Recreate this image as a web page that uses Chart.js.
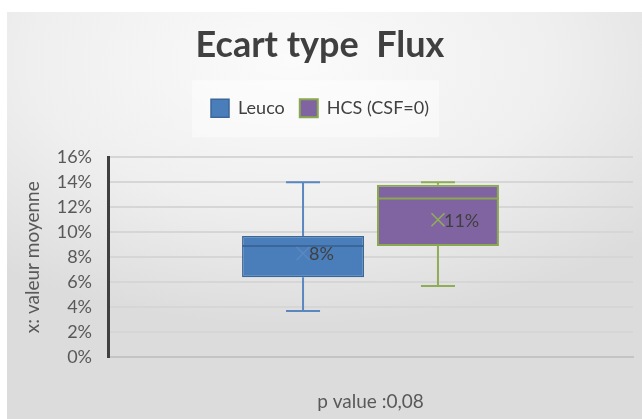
<!DOCTYPE html>
<html>
<head>
<meta charset="utf-8">
<script src="https://cdn.jsdelivr.net/npm/chart.js@4.4.1/dist/chart.umd.min.js"></script>
<style>
    html, body {
        margin: 0;
        padding: 0;
        background: #ffffff;
    }
    #wrap {
        position: absolute;
        left: 7px;
        top: 12px;
        width: 635px;
        height: 407px;
        background: radial-gradient(ellipse 75% 65% at 45% 12%, #fbfbfb 0%, #efefef 55%, #dcdcdc 100%);
    }
</style>
</head>
<body>
<div id="wrap"><canvas id="box-chart"></canvas></div>
<script>
const categories = [""];
const seriesNames = ["Leuco", "HCS (CSF=0)"];
const minValues = [3.7, 5.7];
const q1Values = [6.4, 8.9];
const medianValues = [8.9, 12.7];
const q3Values = [9.7, 13.8];
const maxValues = [14.0, 14.0];
const meanValues = [8.3, 11.0];
const meanLabels = ["8%", "11%"];
const yTicks = [0, 2, 4, 6, 8, 10, 12, 14, 16];

const fillColors = ["#4A7EBB", "#8064A2"];
const edgeColors = ["#3B6698", "#8AA84E"];
const whiskerColors = ["#5B87BF", "#8FAD57"];

// whiskers, median, mean cross and the mean label
const boxExtras = {
    id: "boxExtras",
    beforeDraw: (chart) => {
        const legend = chart.legend;
        if (!legend || !legend.legendHitBoxes.length) return;
        const first = legend.legendHitBoxes[0];
        const last = legend.legendHitBoxes[legend.legendHitBoxes.length - 1];
        const ctx = chart.ctx;
        ctx.save();
        ctx.fillStyle = "rgba(255,255,255,0.45)";
        ctx.fillRect(first.left - 19, first.top - 19, last.left + last.width - first.left + 29, 57);
        ctx.restore();
    },
    afterDatasetsDraw: (chart) => {
        const ctx = chart.ctx;
        const y = chart.scales.y;
        seriesNames.forEach((name, i) => {
            const bar = chart.getDatasetMeta(i).data[0];
            const x = bar.x;
            const half = bar.width / 2;
            const cap = 17;

            ctx.save();
            ctx.strokeStyle = whiskerColors[i];
            ctx.lineWidth = 2;
            ctx.beginPath();
            ctx.moveTo(x, y.getPixelForValue(q3Values[i]));
            ctx.lineTo(x, y.getPixelForValue(maxValues[i]));
            ctx.moveTo(x - cap, y.getPixelForValue(maxValues[i]));
            ctx.lineTo(x + cap, y.getPixelForValue(maxValues[i]));
            ctx.moveTo(x, y.getPixelForValue(q1Values[i]));
            ctx.lineTo(x, y.getPixelForValue(minValues[i]));
            ctx.moveTo(x - cap, y.getPixelForValue(minValues[i]));
            ctx.lineTo(x + cap, y.getPixelForValue(minValues[i]));
            ctx.stroke();

            ctx.strokeStyle = edgeColors[i];
            ctx.lineWidth = 2;
            ctx.beginPath();
            ctx.moveTo(x - half, y.getPixelForValue(medianValues[i]));
            ctx.lineTo(x + half, y.getPixelForValue(medianValues[i]));
            ctx.stroke();

            const my = y.getPixelForValue(meanValues[i]);
            const s = 6.5;
            ctx.strokeStyle = whiskerColors[i];
            ctx.lineWidth = 1.6;
            ctx.beginPath();
            ctx.moveTo(x - s, my - s);
            ctx.lineTo(x + s, my + s);
            ctx.moveTo(x + s, my - s);
            ctx.lineTo(x - s, my + s);
            ctx.stroke();

            ctx.fillStyle = "#404040";
            ctx.font = "18px Lato";
            ctx.textAlign = "left";
            ctx.textBaseline = "middle";
            ctx.fillText(meanLabels[i], x + 6, my + 1);
            ctx.restore();
        });
    }
};

const loadChart = () => {
    const ctx = document.getElementById("box-chart").getContext("2d");

    new Chart(ctx, {
        type: "bar",
        data: {
            labels: categories,
            datasets: seriesNames.map((name, i) => ({
                label: name,
                data: [[q1Values[i], q3Values[i]]],
                backgroundColor: fillColors[i],
                borderColor: edgeColors[i],
                borderWidth: i === 0 ? 1.5 : 2,
                borderSkipped: false,
                categoryPercentage: 0.514,
                barPercentage: 0.904
            }))
        },
        options: {
            responsive: true,
            maintainAspectRatio: false,
            animation: false,
            layout: {
                padding: { left: 0, right: 9, top: 0, bottom: 0 }
            },
            plugins: {
                title: {
                    display: true,
                    text: "Ecart type  Flux",
                    color: "#404040",
                    font: { family: "Lato", size: 36, weight: "bold" },
                    padding: { top: 12, bottom: 17 }
                },
                legend: {
                    display: true,
                    position: "top",
                    weight: 1800,
                    labels: {
                        color: "#404040",
                        font: { family: "Lato", size: 18 },
                        boxWidth: 18,
                        boxHeight: 18,
                        padding: 15
                    }
                },
                subtitle: {
                    display: true,
                    text: " ",
                    font: { size: 10 },
                    padding: { top: 0, bottom: 18 }
                },
                tooltip: { enabled: false }
            },
            scales: {
                x: {
                    grid: { display: false, drawTicks: false },
                    border: { display: true, color: "#c4c4c4", width: 2 },
                    ticks: { display: false },
                    title: {
                        display: true,
                        text: "p value :0,08",
                        color: "#595959",
                        font: { family: "Lato", size: 19 },
                        padding: { top: 33, bottom: 6 }
                    }
                },
                y: {
                    min: 0,
                    max: 16,
                    afterFit: (scale) => { scale.width = 101; },
                    afterBuildTicks: (scale) => { scale.ticks = yTicks.map(v => ({ value: v })); },
                    grid: {
                        color: "#d6d6d6",
                        lineWidth: 2,
                        drawTicks: false
                    },
                    border: { display: true, color: "#404040", width: 3 },
                    ticks: {
                        color: "#595959",
                        font: { family: "Lato", size: 18 },
                        padding: 16,
                        callback: (value) => `${value}%`
                    },
                    title: {
                        display: true,
                        text: "x: valeur moyenne",
                        color: "#595959",
                        font: { family: "Lato", size: 19 },
                        padding: { top: 14, bottom: 0 }
                    }
                }
            }
        },
        plugins: [boxExtras]
    });
}

window.onload = () => loadChart();
</script>
</body>
</html>
